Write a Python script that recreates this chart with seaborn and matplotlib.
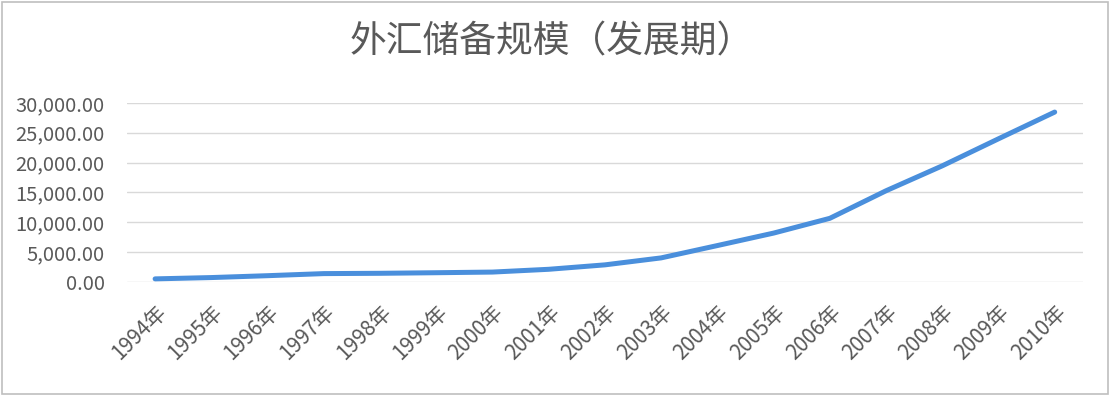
import pandas as pd
import matplotlib
matplotlib.use("Agg")
import matplotlib.pyplot as plt
import seaborn as sns
from matplotlib.patches import Rectangle
from matplotlib.ticker import FuncFormatter

# data: foreign exchange reserves (100 million USD)
years = ["1994年", "1995年", "1996年", "1997年", "1998年", "1999年", "2000年", "2001年",
         "2002年", "2003年", "2004年", "2005年", "2006年", "2007年", "2008年", "2009年", "2010年"]
reserves = [516, 736, 1050, 1399, 1450, 1547, 1656, 2122,
            2864, 4033, 6099, 8189, 10663, 15282, 19460, 23992, 28473]

df = pd.DataFrame({"year": years, "reserves": reserves})

sns.set_theme(style="white")
plt.rcParams["font.family"] = ["Noto Sans CJK SC", "DejaVu Sans"]

fig = plt.figure(figsize=(11.14, 3.96), dpi=100)
ax = fig.add_axes([0.114, 0.288, 0.858, 0.452])

sns.lineplot(data=df, x="year", y="reserves", ax=ax, color="#4A8FDC",
             linewidth=3.6, sort=False, solid_capstyle="round")

ax.set_ylim(0, 30000)
ax.set_xlim(-0.5, len(years) - 0.5)
ax.set_yticks(range(0, 30001, 5000))
ax.yaxis.set_major_formatter(FuncFormatter(lambda v, p: f"{v:,.2f}"))
ax.grid(axis="y", color="#D9D9D9", linewidth=1)
ax.set_axisbelow(True)
for s in ax.spines.values():
    s.set_visible(False)
ax.tick_params(axis="y", length=0, labelsize=14.5, labelcolor="#595959", pad=16)
ax.tick_params(axis="x", length=0, labelsize=15, labelcolor="#595959", pad=14)
plt.setp(ax.get_xticklabels(), rotation=45, ha="right", rotation_mode="anchor")
ax.set_xlabel("")
ax.set_ylabel("")

fig.text(0.495, 0.893, "外汇储备规模（发展期）", ha="center", va="center",
         fontsize=26.5, color="#595959")

# outer chart frame
fig.patches.append(Rectangle((0.002, 0.006), 0.993, 0.99, transform=fig.transFigure,
                             fill=False, edgecolor="#BFBFBF", linewidth=1.2))

fig.savefig("out.png", dpi=100, facecolor="white")
